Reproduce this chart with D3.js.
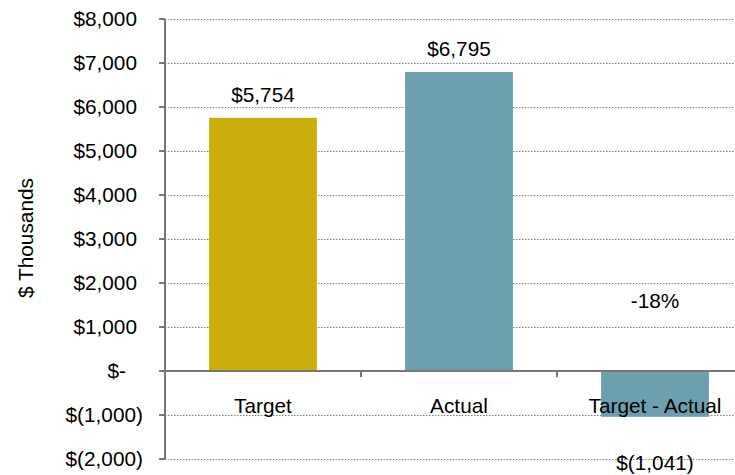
<!DOCTYPE html>
<html>
<head>
<meta charset="utf-8">
<script src="https://cdn.jsdelivr.net/npm/d3@7"></script>
<style>
  body { margin: 0; background: #fff; }
  text { font-family: "Liberation Sans", Arial, sans-serif; fill: #000; }
</style>
</head>
<body>
<svg id="chart" width="735" height="475"></svg>
<script>
let categories = ['Target', 'Actual', 'Target - Actual'];
let values = [5754, 6795, -1041];
let valueLabels = ['$5,754', '$6,795', '$(1,041)'];
let barColors = ['#cbae0c', '#6e9faf', '#6e9faf'];
let tickValues = [-2000, -1000, 0, 1000, 2000, 3000, 4000, 5000, 6000, 7000, 8000];
let pctLabel = '-18%';

let svg = d3.select('#chart');
let margin = { left: 165, top: 19 };
let plotW = 588, plotH = 440;
let fontSize = 20.8;

let x = d3.scaleBand()
    .domain(categories)
    .range([margin.left, margin.left + plotW])
    .paddingInner(0.45)
    .paddingOuter(0.225);

let y = d3.scaleLinear()
    .domain([-2000, 8000])
    .range([margin.top + plotH, margin.top]);

function fmt(v) {
    if (v === 0) return '$-';
    let s = d3.format(',')(Math.abs(v));
    return v < 0 ? '$(' + s + ')' : '$' + s;
}

// gridlines
svg.append('g')
    .selectAll('line')
    .data(tickValues.filter((d) => d !== 0))
    .enter()
    .append('line')
    .attr('x1', margin.left)
    .attr('x2', margin.left + plotW)
    .attr('y1', (d) => Math.round(y(d)) + 0.5)
    .attr('y2', (d) => Math.round(y(d)) + 0.5)
    .attr('stroke', '#808080')
    .attr('stroke-width', 1.2)
    .attr('stroke-dasharray', '1.5,1.5');

// bars
svg.append('g')
    .selectAll('rect')
    .data(values)
    .enter()
    .append('rect')
    .attr('x', (d, i) => x(categories[i]))
    .attr('width', x.bandwidth())
    .attr('y', (d) => y(Math.max(0, d)))
    .attr('height', (d) => Math.abs(y(d) - y(0)))
    .attr('fill', (d, i) => barColors[i]);

// y axis line and ticks
svg.append('line')
    .attr('x1', margin.left).attr('x2', margin.left)
    .attr('y1', margin.top).attr('y2', margin.top + plotH)
    .attr('stroke', '#767676').attr('stroke-width', 2);

svg.append('g')
    .selectAll('line')
    .data(tickValues)
    .enter()
    .append('line')
    .attr('x1', margin.left - 6).attr('x2', margin.left)
    .attr('y1', (d) => Math.round(y(d)))
    .attr('y2', (d) => Math.round(y(d)))
    .attr('stroke', '#767676').attr('stroke-width', 2);

// zero line
svg.append('line')
    .attr('x1', margin.left).attr('x2', margin.left + plotW)
    .attr('y1', Math.round(y(0))).attr('y2', Math.round(y(0)))
    .attr('stroke', '#767676').attr('stroke-width', 2);

// category separator ticks on zero line
svg.append('g')
    .selectAll('line')
    .data(d3.range(1, categories.length + 1))
    .enter()
    .append('line')
    .attr('x1', (i) => margin.left + i * plotW / categories.length)
    .attr('x2', (i) => margin.left + i * plotW / categories.length)
    .attr('y1', y(0)).attr('y2', y(0) + 6)
    .attr('stroke', '#767676').attr('stroke-width', 2);

// tick labels
svg.append('g')
    .selectAll('text')
    .data(tickValues)
    .enter()
    .append('text')
    .attr('x', (d) => d < 0 ? 143 : (d === 0 ? 126 : 137))
    .attr('y', (d) => y(d) + 7)
    .attr('text-anchor', 'end')
    .attr('font-size', fontSize)
    .text(fmt);

// axis title
svg.append('text')
    .attr('transform', 'translate(33,238) rotate(-90)')
    .attr('text-anchor', 'middle')
    .attr('font-size', fontSize)
    .text('$ Thousands');

// category labels
svg.append('g')
    .selectAll('text')
    .data(categories)
    .enter()
    .append('text')
    .attr('x', (d) => x(d) + x.bandwidth() / 2)
    .attr('y', y(0) + 42)
    .attr('text-anchor', 'middle')
    .attr('font-size', fontSize)
    .text((d) => d);

// value labels
svg.append('g')
    .selectAll('text')
    .data(values)
    .enter()
    .append('text')
    .attr('x', (d, i) => x(categories[i]) + x.bandwidth() / 2)
    .attr('y', (d) => d >= 0 ? y(d) - 16 : y(d) + 53)
    .attr('text-anchor', 'middle')
    .attr('font-size', fontSize)
    .text((d, i) => valueLabels[i]);

svg.append('text')
    .attr('x', x(categories[2]) + x.bandwidth() / 2)
    .attr('y', y(1432))
    .attr('text-anchor', 'middle')
    .attr('font-size', fontSize)
    .text(pctLabel);
</script>
</body>
</html>
